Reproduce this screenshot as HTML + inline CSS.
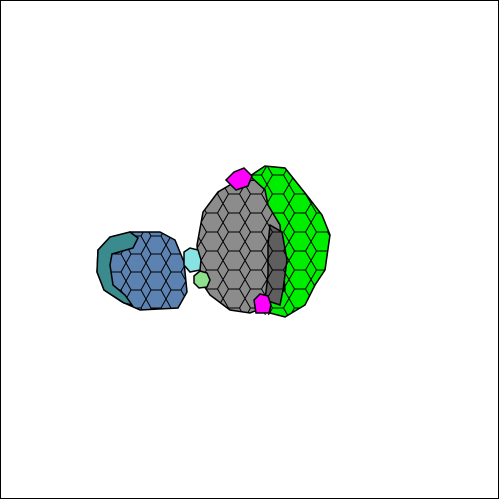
<!DOCTYPE html>
<html><head><meta charset="utf-8"><style>
html,body{margin:0;padding:0;background:#fff;width:500px;height:500px;overflow:hidden}
svg{display:block}
</style></head><body>
<svg width="500" height="500" viewBox="0 0 500 500">
<defs>
<pattern id="hex" width="22" height="19" patternUnits="userSpaceOnUse" patternTransform="translate(3,4)">
<path d="M0,9.5 L5.5,0 L16.5,0 L22,9.5 L16.5,19 L5.5,19 Z" fill="none" stroke="#000" stroke-width="1"/>
</pattern>
<pattern id="hex2" width="20" height="18" patternUnits="userSpaceOnUse" patternTransform="translate(6,2)">
<path d="M0,9 L5,0 L15,0 L20,9 L15,18 L5,18 Z" fill="none" stroke="#000" stroke-width="1"/>
</pattern>
</defs>
<rect x="0.5" y="0.5" width="498" height="498" fill="#fff" stroke="#000"/>
<g stroke="#000" stroke-width="1.5">
<polygon fill="#5b82b0" points="98,250 110,237 130,232 160,232 175,240 184,262 187,292 178,308 140,310 122,302 104,290 97,272"/>
<polygon fill="url(#hex2)" stroke="none" points="98,250 110,237 130,232 160,232 175,240 184,262 187,292 178,308 140,310 122,302 104,290 97,272"/>
<polygon fill="#3a8a8e" points="98,250 110,237 130,232 138,238 133,248 112,254 110,265 113,285 125,295 132,305 124,303 104,290 97,272"/>
<polygon fill="#8c8c8c" points="235,182 255,180 268,192 275,210 285,225 290,260 285,295 270,305 250,313 230,310 210,295 200,280 197,245 203,212 218,192"/>
<polygon fill="#00ee00" points="250,176 265,166 285,168 305,193 322,215 330,235 325,270 315,285 305,305 285,317 270,313 270,300 285,290 282,250 280,225 268,205 265,190"/>
<polygon fill="#5e5e5e" points="270,225 282,232 287,260 283,290 280,305 265,300 268,275 268,245"/>
<polygon fill="url(#hex)" stroke="none" points="235,182 250,176 265,166 285,168 305,193 322,215 330,235 325,270 315,285 305,305 285,317 250,313 230,310 210,295 200,280 197,245 203,212 218,192"/>
<polygon fill="#ff00ff" points="226,180 234,172 244,168 252,176 248,186 236,190"/>
<polygon fill="#ff00ff" points="254,300 260,294 268,296 271,305 269,313 256,313"/>
<polygon fill="#88e2e2" points="184,252 190,248 198,250 201,260 200,270 190,272 184,265"/>
<polygon fill="#8ee08e" points="194,276 200,271 207,273 210,280 207,287 199,288 194,283"/>
</g>
</svg>
</body></html>
